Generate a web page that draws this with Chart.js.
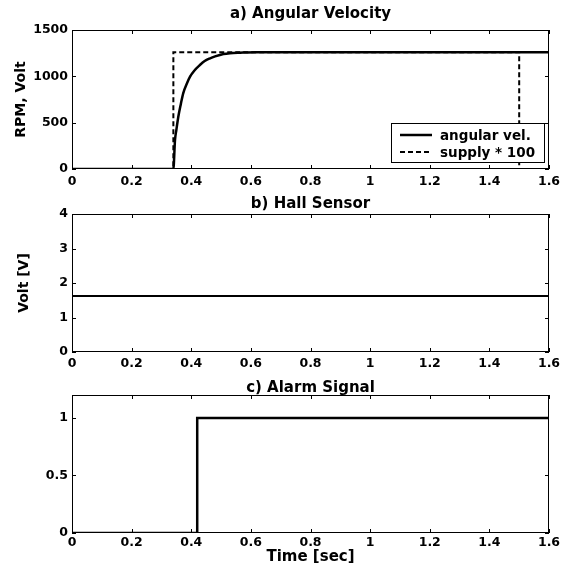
<!DOCTYPE html>
<html><head><meta charset="utf-8">
<script src="https://cdn.jsdelivr.net/npm/chart.js@4/dist/chart.umd.min.js"></script>
<style>
html,body{margin:0;padding:0;background:#fff;}
#wrap{position:relative;width:571px;height:572px;overflow:hidden;}
canvas{position:absolute;left:0;}
</style></head><body>
<div id="wrap">
<canvas id="ca" width="571" height="190" style="top:0px"></canvas>
<canvas id="cb" width="571" height="190" style="top:190px"></canvas>
<canvas id="cc" width="571" height="192" style="top:380px"></canvas>
</div>
<script>
// ---- data ----
const velTime = [0, 0.34, 0.3455, 0.35, 0.3566, 0.365, 0.373, 0.385, 0.396, 0.41, 0.429, 0.445, 0.463, 0.48, 0.508, 0.53, 0.564, 0.62, 1.6];
const velRpm  = [0, 0, 313, 420, 564, 700, 817, 920, 996, 1060, 1122, 1165, 1194, 1215, 1241, 1250, 1255, 1260, 1260];
const supplyTime = [0, 0.34, 0.34, 1.5, 1.5, 1.6];
const supplyTimes100 = [0, 0, 1260, 1260, 0, 0];
const hallTime = [0, 1.6];
const hallVolt = [1.62, 1.62];
const alarmTime = [0, 0.42, 0.42, 1.6];
const alarmLevel = [0, 0, 1, 1];

const xTickValues = [0, 0.2, 0.4, 0.6, 0.8, 1, 1.2, 1.4, 1.6];
const xTickLabels = ['0', '0.2', '0.4', '0.6', '0.8', '1', '1.2', '1.4', '1.6'];
const yTicksA = [0, 500, 1000, 1500];
const yTicksB = [0, 1, 2, 3, 4];
const yTicksC = [0, 0.5, 1];
const yLabelsC = ['0', '0.5', '1'];

const titles = ['a) Angular Velocity', 'b) Hall Sensor', 'c) Alarm Signal'];
const legendLabels = ['angular vel.', 'supply * 100'];

// ---- helpers ----
const FONT = '"DejaVu Sans", "Liberation Sans", sans-serif';
Chart.defaults.font.family = FONT;
Chart.defaults.font.weight = 'bold';
Chart.defaults.color = '#000';

const pts = (xs, ys) => xs.map((x, i) => ({x: x, y: ys[i]}));

const framePlugin = {
  id: 'frame',
  afterDatasetsDraw(chart, args, opts) {
    const {ctx, chartArea: a, scales} = chart;
    ctx.save();
    ctx.strokeStyle = '#000';
    ctx.lineWidth = 1;
    ctx.strokeRect(a.left + 0.5, a.top + 0.5, a.right - a.left - 1, a.bottom - a.top - 1);
    const L = 4;
    ctx.beginPath();
    scales.x.ticks.forEach(t => {
      const px = Math.round(scales.x.getPixelForValue(t.value)) + 0.5;
      ctx.moveTo(px, a.bottom); ctx.lineTo(px, a.bottom - L);
      ctx.moveTo(px, a.top); ctx.lineTo(px, a.top + L);
    });
    scales.y.ticks.forEach(t => {
      const py = Math.round(scales.y.getPixelForValue(t.value)) + 0.5;
      ctx.moveTo(a.left, py); ctx.lineTo(a.left + L, py);
      ctx.moveTo(a.right, py); ctx.lineTo(a.right - L, py);
    });
    ctx.stroke();
    ctx.restore();
  },
  afterDraw(chart, args, opts) {
    if (!opts || !opts.text) return;
    const {ctx, chartArea: a} = chart;
    ctx.save();
    ctx.fillStyle = '#000';
    ctx.font = 'bold 15px ' + FONT;
    ctx.textAlign = 'center';
    ctx.textBaseline = 'alphabetic';
    ctx.fillText(opts.text, (a.left + a.right) / 2, opts.baseline);
    ctx.restore();
  }
};

const boxLegendPlugin = {
  id: 'boxLegend',
  afterDraw(chart, args, opts) {
    if (!opts || !opts.show) return;
    const {ctx} = chart;
    const bx = 391, by = 123, bw = 153, bh = 39;
    ctx.save();
    ctx.fillStyle = '#fff';
    ctx.fillRect(bx, by, bw, bh);
    ctx.strokeStyle = '#000';
    ctx.lineWidth = 1;
    ctx.strokeRect(bx + 0.5, by + 0.5, bw, bh);
    ctx.font = 'bold 13.5px ' + FONT;
    ctx.textBaseline = 'middle';
    ctx.fillStyle = '#000';
    chart.data.datasets.forEach((ds, i) => {
      const y = by + 12 + i * 17;
      ctx.beginPath();
      ctx.setLineDash(ds.borderDash || []);
      ctx.lineWidth = ds.borderWidth;
      ctx.moveTo(bx + 9, y); ctx.lineTo(bx + 41, y);
      ctx.stroke();
      ctx.setLineDash([]);
      ctx.fillText(ds.label, bx + 49, y + 1);
    });
    ctx.restore();
  }
};

function makeChart(id, datasets, cfg) {
  return new Chart(document.getElementById(id), {
    type: 'line',
    data: {datasets: datasets},
    plugins: [framePlugin, boxLegendPlugin],
    options: {
      responsive: false,
      animation: false,
      devicePixelRatio: 1,
      layout: {padding: {left: 0, right: 22, top: cfg.top, bottom: 0}},
      elements: {point: {radius: 0}},
      plugins: {
        legend: {display: false},
        tooltip: {enabled: false},
        frame: {text: cfg.title, baseline: cfg.titleBaseline},
        boxLegend: {show: !!cfg.legend}
      },
      scales: {
        x: {
          type: 'linear', min: 0, max: 1.6,
          afterBuildTicks: s => { s.ticks = xTickValues.map(v => ({value: v})); },
          afterFit: s => { s.height = cfg.xHeight; },
          grid: {display: false, drawTicks: false},
          border: {display: false},
          ticks: {padding: cfg.xPad, color: '#000', font: {size: 12.5, weight: 'bold'},
                  maxRotation: 0, callback: (v, i) => xTickLabels[i]},
          title: cfg.xTitle ? {display: true, text: cfg.xTitle, color: '#000',
                  font: {size: 15, weight: 'bold'}, padding: {top: 0, bottom: cfg.xTitlePad}} : {display: false}
        },
        y: {
          type: 'linear', min: cfg.ymin, max: cfg.ymax,
          afterBuildTicks: s => { s.ticks = cfg.yTicks.map(v => ({value: v})); },
          afterFit: s => { s.width = 72; },
          grid: {display: false, drawTicks: false},
          border: {display: false},
          ticks: {padding: 4, color: '#000', font: {size: 12.5, weight: 'bold'},
                  callback: (v, i) => cfg.yLabels ? cfg.yLabels[i] : String(v)},
          title: cfg.yTitle ? {display: true, text: cfg.yTitle, color: '#000',
                  font: {size: 14, weight: 'bold'}, padding: {top: cfg.yTitlePad, bottom: 0}} : {display: false}
        }
      }
    }
  });
}

makeChart('ca', [
  {label: legendLabels[0], data: pts(velTime, velRpm), borderColor: '#000', borderWidth: 2.5,
   cubicInterpolationMode: 'monotone', fill: false},
  {label: legendLabels[1], data: pts(supplyTime, supplyTimes100), borderColor: '#000', borderWidth: 2,
   borderDash: [5, 3], tension: 0, fill: false}
], {top: 30, xHeight: 21, xPad: 5, ymin: 0, ymax: 1500, yTicks: yTicksA,
    yTitle: 'RPM, Volt', yTitlePad: 12.6, title: titles[0], titleBaseline: 18, legend: true});

makeChart('cb', [
  {label: 'hall', data: pts(hallTime, hallVolt), borderColor: '#000', borderWidth: 2, tension: 0, fill: false}
], {top: 24, xHeight: 28, xPad: 4, ymin: 0, ymax: 4, yTicks: yTicksB,
    yTitle: 'Volt [V]', yTitlePad: 15.6, title: titles[1], titleBaseline: 18});

makeChart('cc', [
  {label: 'alarm', data: pts(alarmTime, alarmLevel), borderColor: '#000', borderWidth: 2.5, tension: 0, fill: false}
], {top: 15, xHeight: 39, xPad: 2, ymin: 0, ymax: 1.2, yTicks: yTicksC, yLabels: yLabelsC,
    xTitle: 'Time [sec]', xTitlePad: 5.5, title: titles[2], titleBaseline: 12});
</script>
</body></html>
